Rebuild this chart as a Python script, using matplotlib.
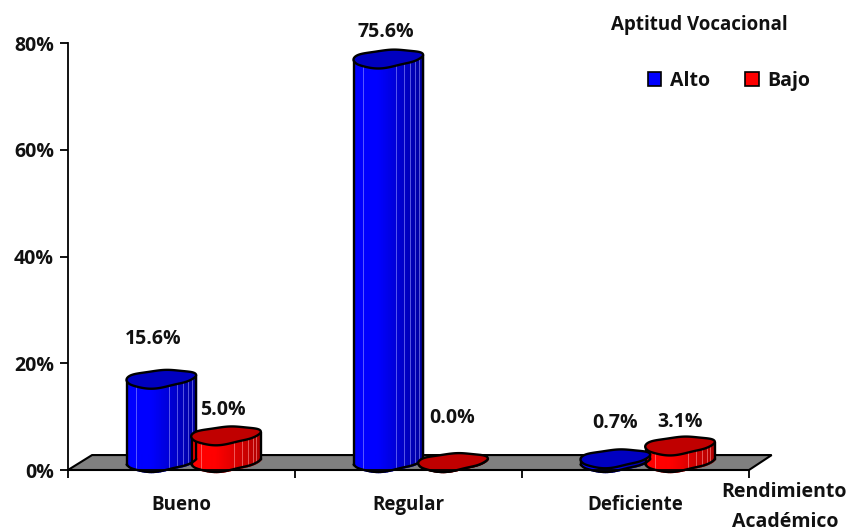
# Aptitud vocacional vs rendimiento academico - fake 3D cylinders
import numpy as np
import matplotlib
matplotlib.use("Agg")
import matplotlib.pyplot as plt
from matplotlib.patches import Patch, Polygon
from matplotlib.colors import to_rgb

# data
categorias = ["Bueno", "Regular", "Deficiente"]
alto = [15.6, 75.6, 0.7]
bajo = [5.0, 0.0, 3.1]
ticks_y = [0, 20, 40, 60, 80]

plt.rcParams["font.family"] = ["Open Sans", "DejaVu Sans"]
plt.rcParams["font.weight"] = "bold"
plt.rcParams["font.size"] = 14
plt.rcParams["text.color"] = "#111111"
plt.rcParams["xtick.labelcolor"] = "#111111"
plt.rcParams["ytick.labelcolor"] = "#111111"

W, H = 852, 531
fig = plt.figure(figsize=(W / 100, H / 100), dpi=100)
ax = fig.add_axes([68 / W, 1 - 470 / H, (749 - 68) / W, (470 - 43) / H])
ax.set_xlim(0, 3)
ax.set_ylim(0, 80)

# cylinder shape, sizes in data units
RX = 0.152
RY = 1.6
SLANT = 0.5
BASE = 1.5
LINES = [0.13, 0.61, 0.73, 0.81, 0.89, 0.94]


def blob(cx, cy, t):
    r = 1 + 0.06 * np.sin(3 * t + 0.8)
    dx = np.cos(t) * r
    wave = 0.1 * np.sin(5 * t + 1.0) * np.abs(np.sin(t))
    return cx + RX * dx, cy + (RY * np.sin(t) + wave) * r + SLANT * dx


def cylinder(cx, value, light, dark, top, line):
    t = np.linspace(0, 2 * np.pi, 200)
    x_top, y_top = blob(cx, BASE + value, t)
    t_low = np.linspace(np.pi, 2 * np.pi, 100)
    x_low, y_low = blob(cx, BASE, t_low)

    # body as thin vertical strips
    edges = np.linspace(x_low[0], x_low[-1], 41)
    light, dark = np.array(to_rgb(light)), np.array(to_rgb(dark))
    for i in range(40):
        f = (i + 0.5) / 40
        mix = np.clip((f - 0.35) / 0.65, 0, 1)
        col = light * (1 - mix) + dark * mix
        xs = edges[i:i + 2]
        ax.fill_between(xs, np.interp(xs, x_low, y_low),
                        BASE + value + SLANT * (xs - cx) / RX,
                        facecolor=col, edgecolor=col, lw=1.0, clip_on=False, zorder=3)
    if value > 2:
        for f in LINES:
            xl = x_low[0] + f * (x_low[-1] - x_low[0])
            ax.plot([xl, xl],
                    [np.interp(xl, x_low, y_low), BASE + value + SLANT * (xl - cx) / RX],
                    color=line, lw=0.5, alpha=0.8, clip_on=False, zorder=3.1)

    # outline
    ax.plot(x_low, y_low, color="black", lw=1.7, clip_on=False, zorder=3.2)
    ax.plot([x_low[0], x_low[0]], [y_low[0], y_low[0] + value], color="black", lw=1.7,
            clip_on=False, zorder=3.2)
    ax.plot([x_low[-1], x_low[-1]], [y_low[-1], y_low[-1] + value], color="black", lw=1.7,
            clip_on=False, zorder=3.2)
    ax.add_patch(Polygon(np.column_stack([x_top, y_top]), closed=True, facecolor=top,
                         edgecolor="black", lw=1.7, clip_on=False, zorder=3.3))


# floor
ax.add_patch(Polygon([[0, 0], [0.106, 2.8], [3.1, 2.8], [3, 0]], closed=True,
                     facecolor="#808080", edgecolor="black", lw=1.5, clip_on=False, zorder=2))

pos = np.arange(3) + 0.5
for i in range(3):
    cylinder(pos[i] - 0.095, alto[i], "#0000FF", "#0000A0", "#0000C0", "#9A9AFF")
    cylinder(pos[i] + 0.19, bajo[i], "#FF0000", "#B00000", "#C00000", "#FF9A9A")

# data labels, nudged by hand in pixels like in the original
nudge_alto = [(-7, 40), (-1, 26), (1, 35)]
nudge_bajo = [(-2, 25), (0, 44), (1, 23)]
for i in range(3):
    ax.annotate(f"{alto[i]:.1f}%", (pos[i] - 0.095, BASE + alto[i]), xytext=nudge_alto[i],
                textcoords="offset pixels", ha="center", va="center", annotation_clip=False)
    ax.annotate(f"{bajo[i]:.1f}%", (pos[i] + 0.19, BASE + bajo[i]), xytext=nudge_bajo[i],
                textcoords="offset pixels", ha="center", va="center", annotation_clip=False)

# axes
for s in ["top", "right"]:
    ax.spines[s].set_visible(False)
for s in ["left", "bottom"]:
    ax.spines[s].set_linewidth(1.3)
    ax.spines[s].set_zorder(4)
ax.set_yticks(ticks_y)
ax.set_yticklabels([f"{v}%" for v in ticks_y])
ax.set_xticks([0, 1, 2, 3])
ax.set_xticklabels([])
ax.set_xticks(pos, minor=True)
ax.set_xticklabels(categorias, minor=True, fontsize=13.5)
ax.tick_params(axis="both", which="major", length=6, width=1.3, pad=4)
ax.tick_params(axis="x", which="minor", length=0, pad=18)

# legend and axis titles
handles = [Patch(facecolor="#0000FF", edgecolor="black", lw=1.2, label="Alto"),
           Patch(facecolor="#FF0000", edgecolor="black", lw=1.2, label="Bajo")]
fig.legend(handles=handles, ncol=2, frameon=False, loc="center", bbox_to_anchor=(729 / W, 1 - 81 / H),
           handlelength=0.7, handleheight=0.7, handletextpad=0.45, columnspacing=1.8)
fig.text(699 / W, 1 - 25 / H, "Aptitud Vocacional", ha="center", va="center", fontsize=13.5)
fig.text(784 / W, 1 - 492 / H, "Rendimiento", ha="center", va="center", fontsize=14)
fig.text(785 / W, 1 - 522 / H, "Académico", ha="center", va="center", fontsize=14)

fig.savefig("out.png", dpi=100)
